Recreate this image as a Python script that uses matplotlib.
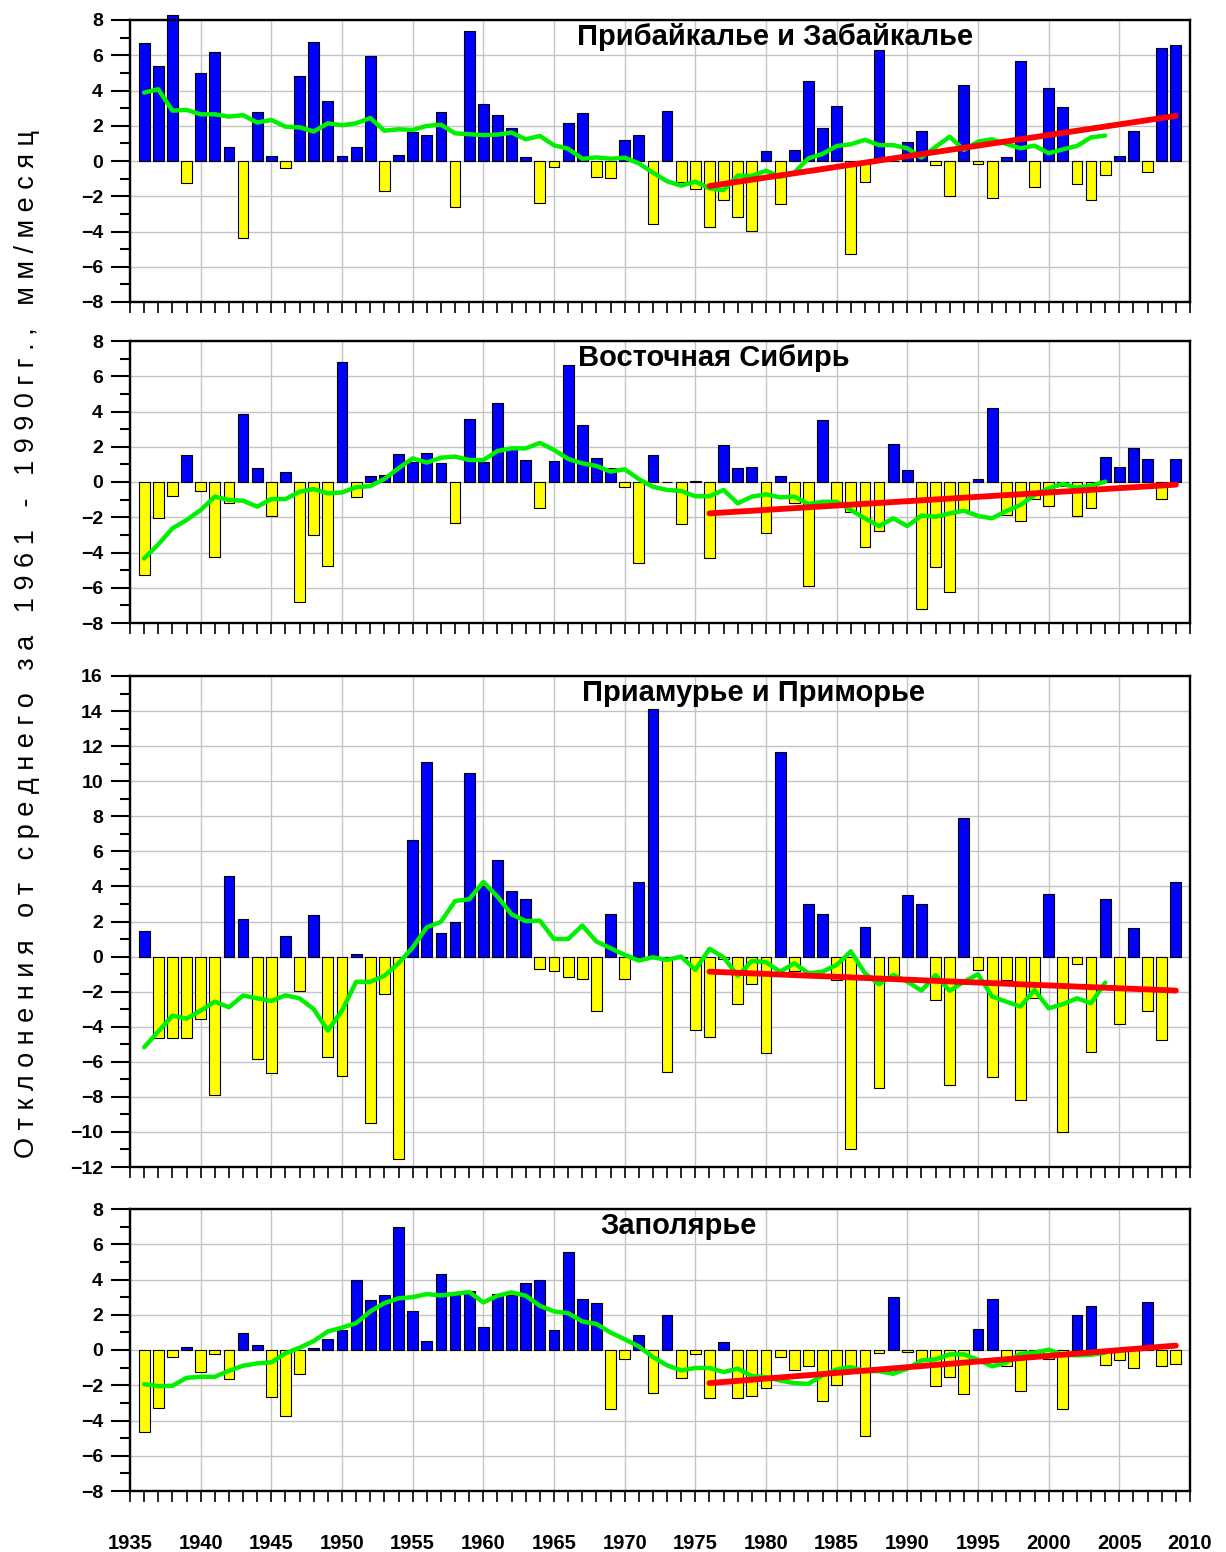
import matplotlib.pyplot as plt
import numpy as np
from matplotlib.ticker import MultipleLocator

plt.rcParams["font.family"] = ["Liberation Sans", "DejaVu Sans"]

years = np.arange(1936, 2010)
ma_years = np.arange(1936, 2005)
trend_years = [1976, 2009]

# Precipitation anomalies (mm/month) relative to the 1961-1990 mean
baikal = [6.67, 5.4, 8.31, -1.25, 5.0, 6.17, 0.78, -4.39, 2.8, 0.27,
          -0.42, 4.81, 6.74, 3.39, 0.27, 0.78, 5.95, -1.7, 0.36, 1.67,
          1.46, 2.8, -2.63, 7.4, 3.22, 2.6, 1.9, 0.2, -2.4, -0.35,
          2.15, 2.7, -0.9, -0.95, 1.2, 1.45, -3.6, 2.85, -1.2, -1.6,
          -3.75, -2.2, -3.2, -3.95, 0.55, -2.45, 0.65, 4.55, 1.85, 3.1,
          -5.25, -1.2, 6.3, 0.0, 1.1, 1.7, -0.25, -2.0, 4.3, -0.17,
          -2.1, 0.2, 5.7, -1.5, 4.15, 3.05, -1.3, -2.2, -0.8, 0.27,
          1.72, -0.6, 6.4, 6.6]
baikal_ma = [3.88, 4.07, 2.86, 2.9, 2.65, 2.65, 2.52, 2.6, 2.18, 2.33,
             1.95, 1.91, 1.67, 2.14, 2.03, 2.14, 2.44, 1.72, 1.8, 1.76,
             1.99, 2.06, 1.57, 1.52, 1.47, 1.5, 1.61, 1.23, 1.42, 0.89,
             0.7, 0.13, 0.2, 0.13, 0.19, -0.13, -0.66, -1.15, -1.4, -1.17,
             -1.55, -1.65, -0.83, -0.85, -0.55, -0.9, -0.66, 0.15, 0.4, 0.85,
             0.95, 1.2, 0.9, 0.9, 0.72, 0.2, 0.8, 1.38, 0.63, 1.1,
             1.23, 0.97, 0.72, 0.87, 0.44, 0.66, 0.85, 1.34, 1.44]
baikal_trend = [-1.42, 2.56]

vsib = [-5.28, -2.06, -0.78, 1.55, -0.53, -4.28, -1.17, 3.88, 0.81, -1.91,
        0.55, -6.82, -3.01, -4.79, 6.8, -0.87, 0.36, 0.38, 1.59, 1.16,
        1.65, 1.06, -2.33, 3.6, 1.14, 4.47, 1.91, 1.23, -1.5, 1.19,
        6.63, 3.22, 1.38, 0.78, -0.3, -4.6, 1.53, 0.02, -2.39, 0.05,
        -4.34, 2.08, 0.8, 0.85, -2.88, 0.32, -1.21, -5.9, 3.5, -1.3,
        -1.69, -3.71, -2.8, 2.14, 0.69, -7.22, -4.84, -6.22, -1.6, 0.15,
        4.19, -1.88, -2.2, -0.98, -1.36, -0.2, -1.91, -1.46, 1.44, 0.87,
        1.91, 1.29, -0.98, 1.31]
vsib_ma = [-4.34, -3.54, -2.63, -2.16, -1.59, -0.83, -1.02, -1.06, -1.4, -0.97,
           -0.97, -0.55, -0.4, -0.64, -0.59, -0.3, -0.23, 0.17, 0.78, 1.34,
           1.1, 1.38, 1.44, 1.25, 1.24, 1.76, 1.91, 1.91, 2.22, 1.82,
           1.31, 1.06, 0.91, 0.59, 0.72, 0.17, -0.27, -0.45, -0.51, -0.81,
           -0.81, -0.45, -1.21, -0.83, -0.7, -0.87, -0.83, -1.25, -1.12, -1.12,
           -1.59, -2.06, -2.5, -2.06, -2.5, -1.91, -1.97, -1.78, -1.63, -1.93,
           -2.06, -1.65, -1.31, -0.74, -0.36, -0.11, -0.32, -0.21, 0.02]
vsib_trend = [-1.78, -0.15]

amur = [1.46, -4.62, -4.64, -4.62, -3.54, -7.89, 4.62, 2.15, -5.84, -6.63,
        1.18, -1.98, 2.38, -5.7, -6.83, 0.13, -9.47, -2.13, -11.54, 6.67,
        11.08, 1.33, 2.0, 10.46, 4.0, 5.5, 3.75, 3.27, -0.7, -0.82,
        -1.16, -1.27, -3.1, 2.43, -1.27, 4.24, 14.1, -6.56, -0.1, -4.18,
        -4.6, -0.15, -2.68, -1.58, -5.48, 11.69, -0.8, 2.97, 2.43, -1.33,
        -10.98, 1.67, -7.49, -1.05, 3.5, 2.98, -2.47, -7.3, 7.89, -0.74,
        -6.86, -1.33, -8.19, -2.34, 3.57, -10.02, -0.42, -5.44, 3.29, -3.86,
        1.65, -3.08, -4.73, 4.24]
amur_ma = [-5.17, -4.28, -3.37, -3.54, -3.08, -2.57, -2.89, -2.22, -2.38, -2.53,
           -2.21, -2.38, -3.0, -4.22, -3.08, -1.44, -1.44, -1.1, -0.38, 0.51,
           1.67, 1.98, 3.17, 3.27, 4.26, 3.42, 2.41, 2.02, 2.05, 1.0,
           1.0, 1.77, 0.86, 0.48, 0.1, -0.23, -0.04, -0.19, 0.0, -0.76,
           0.44, -0.04, -1.1, -0.25, -0.32, -0.86, -0.38, -0.95, -0.86, -0.48,
           0.3, -0.95, -1.58, -1.05, -1.43, -1.94, -1.05, -1.96, -1.43, -1.01,
           -2.28, -2.57, -2.85, -1.9, -2.95, -2.72, -2.38, -2.66, -1.48]
amur_trend = [-0.86, -1.94]

polar = [-4.64, -3.27, -0.4, 0.19, -1.27, -0.23, -1.62, 0.95, 0.29, -2.64,
         -3.73, -1.37, 0.11, 0.65, 1.14, 3.97, 2.83, 3.1, 7.0, 2.2,
         0.53, 4.3, 3.1, 3.33, 1.29, 3.17, 3.12, 3.82, 3.97, 1.12,
         5.57, 2.87, 2.66, -3.33, -0.49, 0.84, -2.45, 1.96, -1.58, -0.25,
         -2.71, 0.47, -2.71, -2.6, -2.14, -0.42, -1.12, -0.89, -2.92, -2.01,
         -1.1, -4.88, -0.17, 3.02, -0.13, -0.6, -2.07, -1.52, -2.47, 1.18,
         2.9, -0.93, -2.33, -0.45, -0.53, -3.32, 1.97, 2.47, -0.87, -0.59,
         -1.0, 2.75, -0.89, -0.82]
polar_ma = [-1.94, -2.05, -2.03, -1.58, -1.52, -1.52, -1.18, -0.89, -0.76, -0.7,
            -0.19, 0.13, 0.51, 1.05, 1.27, 1.52, 2.19, 2.66, 2.93, 3.0,
            3.17, 3.1, 3.19, 3.29, 2.7, 3.08, 3.27, 3.08, 2.51, 2.19,
            2.09, 1.62, 1.48, 0.99, 0.61, 0.2, -0.4, -0.87, -1.16, -1.02,
            -1.02, -1.25, -1.06, -1.48, -1.54, -1.73, -1.88, -1.92, -1.44, -1.1,
            -0.97, -1.2, -1.2, -1.35, -1.06, -0.59, -0.53, -0.25, -0.25, -0.55,
            -0.93, -0.72, -0.21, -0.15, 0.02, -0.27, -0.3, -0.27, -0.15]
polar_trend = [-1.88, 0.25]

titles = ["Прибайкалье и Забайкалье", "Восточная Сибирь",
          "Приамурье и Приморье", "Заполярье"]
ylabel = "Отклонения от среднего за 1961 - 1990гг., мм/месяц"

W, H = 1226, 1552
fig = plt.figure(figsize=(W / 100, H / 100), dpi=100)

# (top, bottom) of each panel in pixels, plus y range and title left edge
layout = [
    (20, 302, (-8, 8), 577, baikal, baikal_ma, baikal_trend),
    (341, 623, (-8, 8), 578, vsib, vsib_ma, vsib_trend),
    (676, 1167, (-12, 16), 582, amur, amur_ma, amur_trend),
    (1209, 1491, (-8, 8), 600, polar, polar_ma, polar_trend),
]
left_px, right_px = 130, 1190

for i, (top, bot, ylim, tx, vals, ma, trend) in enumerate(layout):
    ax = fig.add_axes([left_px / W, 1 - bot / H, (right_px - left_px) / W, (bot - top) / H])
    vals = np.asarray(vals)
    colors = np.where(vals >= 0, "#0000ff", "#ffff00")
    bars = ax.bar(years, vals, width=0.76, color=colors, edgecolor="black",
                  linewidth=0.8, zorder=3)
    for b in bars:
        b.set_clip_on(False)
    ax.plot(ma_years, ma, color="#00f000", linewidth=3.2, zorder=4,
            solid_capstyle="round", solid_joinstyle="round")
    ax.plot(trend_years, trend, color="#ff0000", linewidth=4.2, zorder=5,
            solid_capstyle="round")

    ax.set_xlim(1935, 2010)
    ax.set_ylim(*ylim)
    ax.xaxis.set_major_locator(MultipleLocator(5))
    ax.xaxis.set_minor_locator(MultipleLocator(1))
    ax.yaxis.set_major_locator(MultipleLocator(2))
    ax.yaxis.set_minor_locator(MultipleLocator(1))
    ax.grid(True, which="major", color="#c4c4c4", linewidth=1.0, zorder=0)
    ax.set_axisbelow(True)

    ax.tick_params(axis="y", which="major", length=13.5, width=1.5, pad=6,
                   labelsize=14)
    ax.tick_params(axis="y", which="minor", length=7, width=1.5)
    ax.tick_params(axis="x", which="both", length=8, width=1.2, pad=23,
                   labelsize=14.5)
    for lab in ax.get_yticklabels():
        lab.set_fontweight("bold")
    if i < 3:
        ax.tick_params(axis="x", labelbottom=False)
    else:
        for lab in ax.get_xticklabels():
            lab.set_fontweight("bold")
    for sp in ax.spines.values():
        sp.set_linewidth(1.7)
        sp.set_zorder(6)

    ax.text((tx - left_px) / (right_px - left_px), 1 - 17 / (bot - top), titles[i],
            transform=ax.transAxes, ha="left", va="center",
            fontsize=21, fontweight="bold", zorder=7)

fig.text(27 / W, 1 - 644 / H, " ".join(ylabel), rotation=90,
         ha="center", va="center", fontsize=19.5)

fig.savefig("out.png", dpi=100)
